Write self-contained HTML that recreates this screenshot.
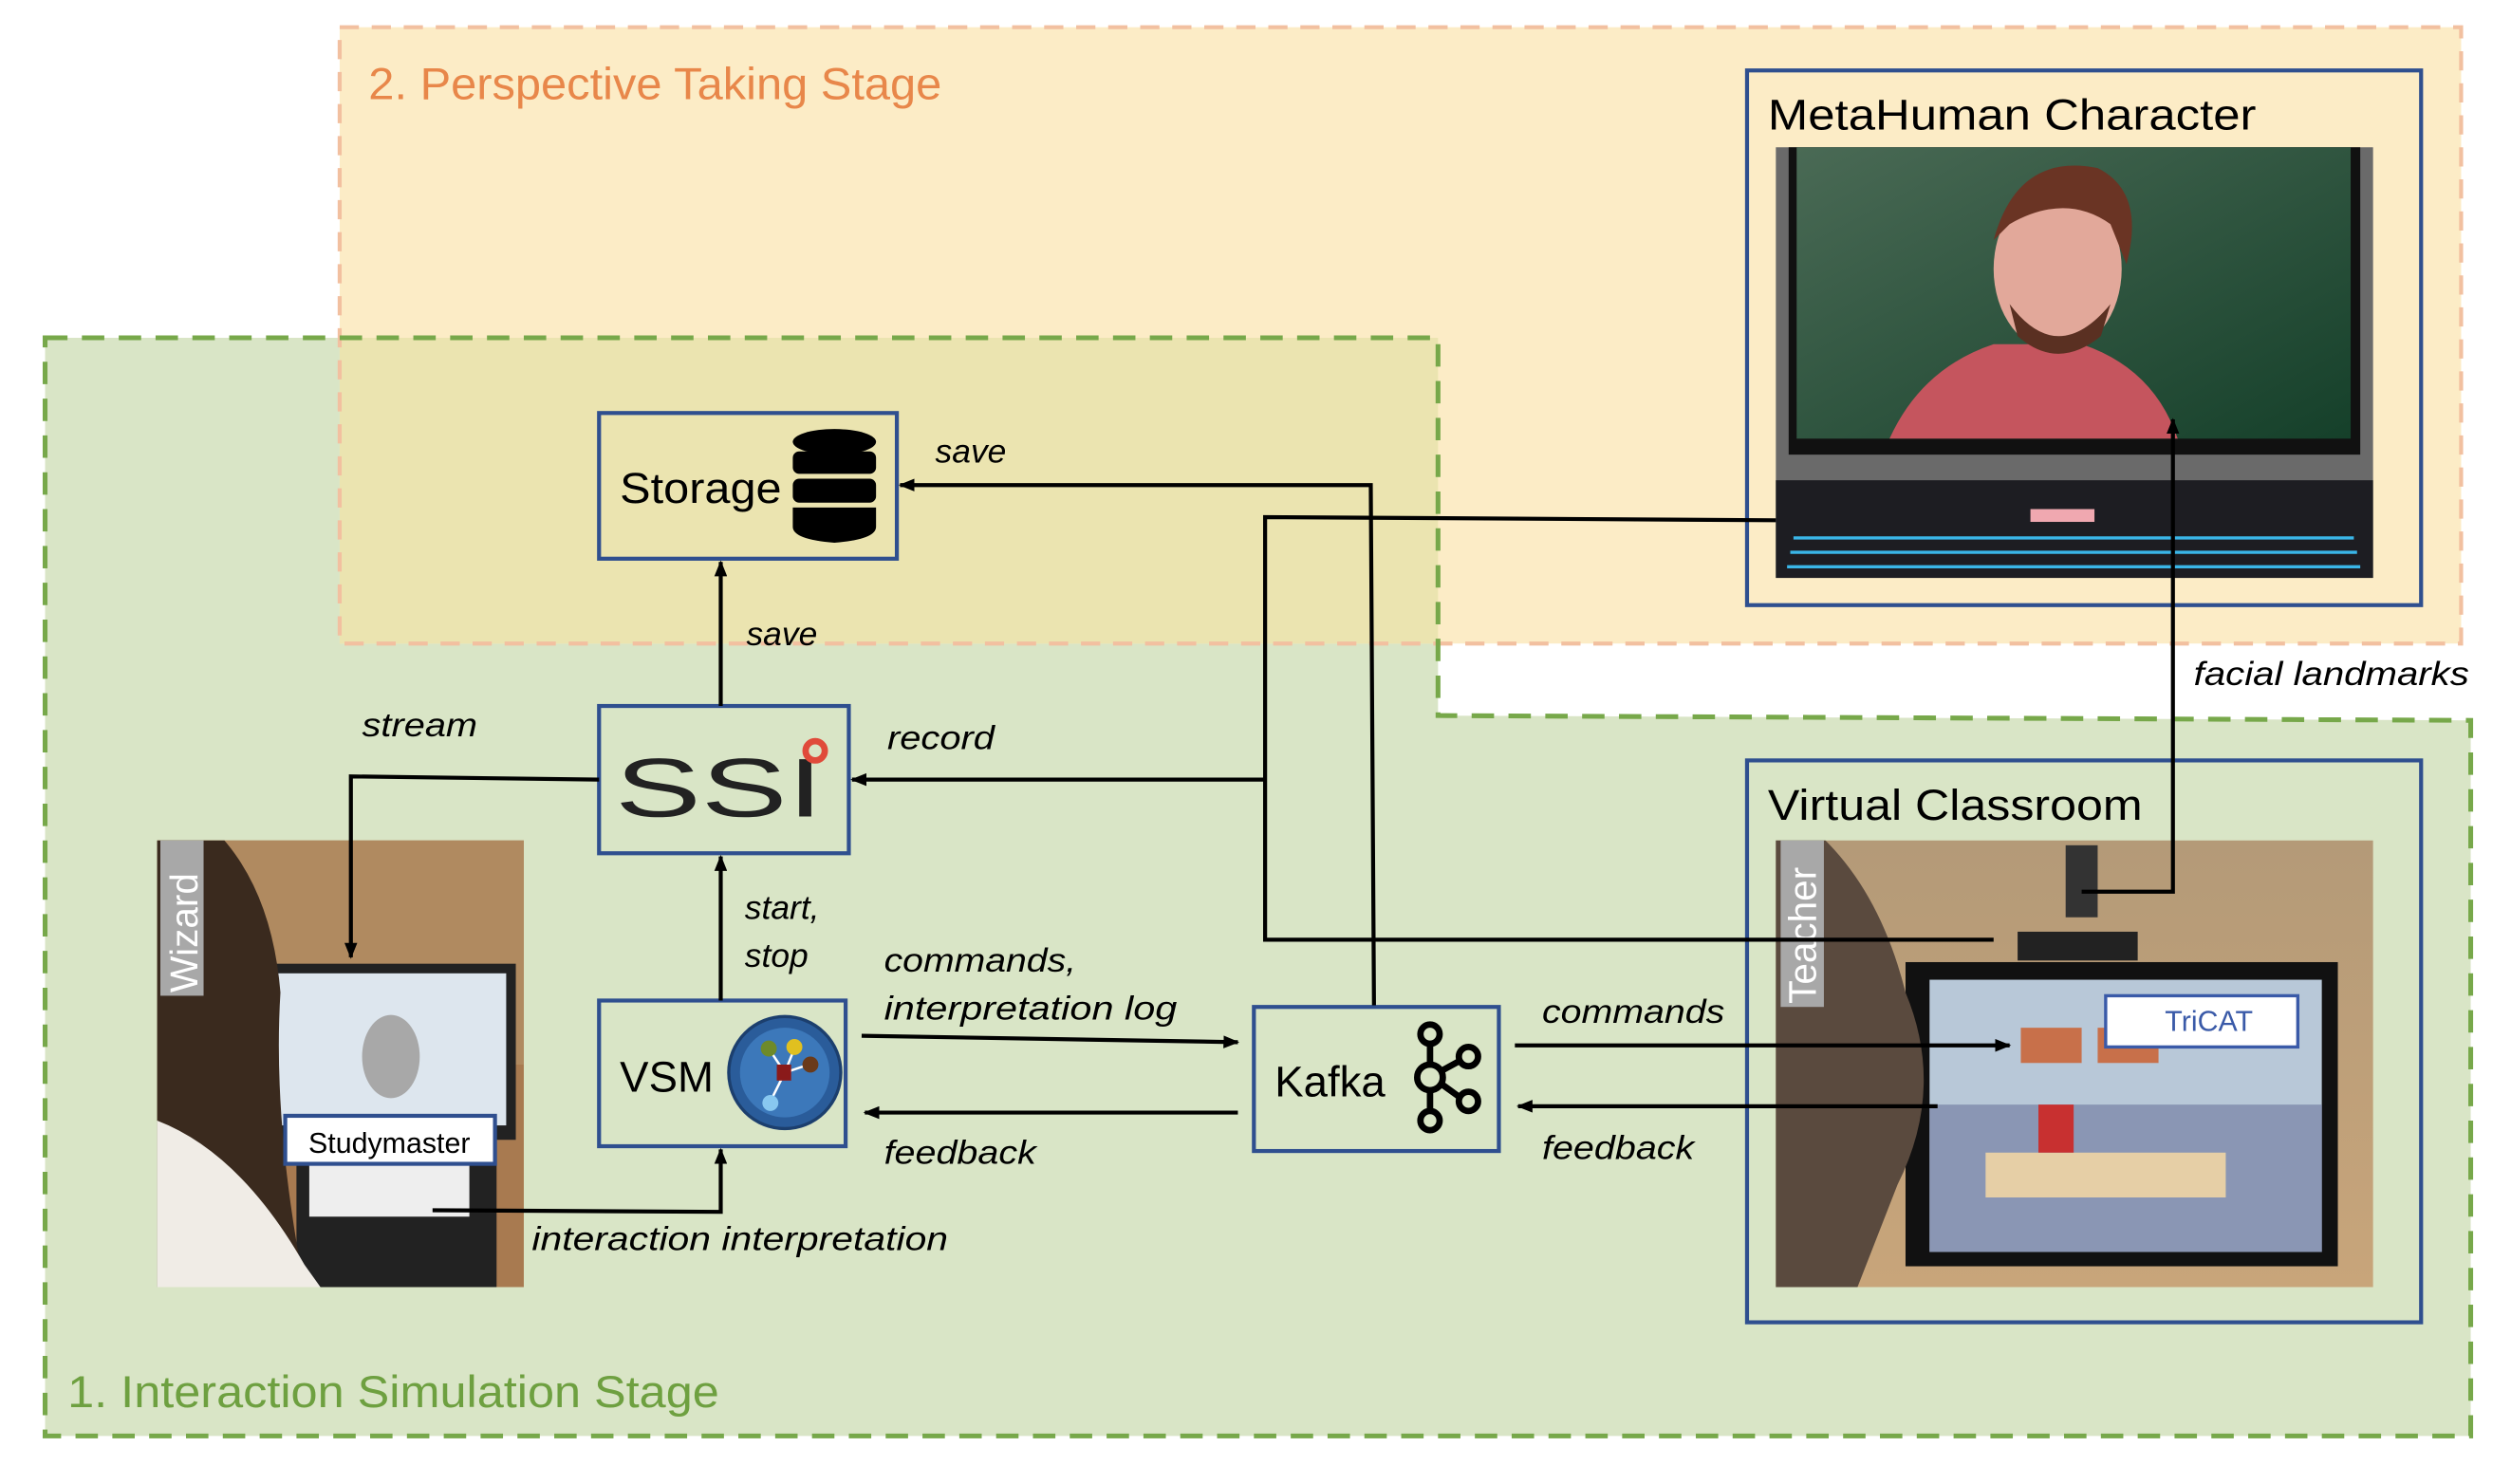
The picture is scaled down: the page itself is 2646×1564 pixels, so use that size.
<!DOCTYPE html>
<html><head><meta charset="utf-8"><style>
html,body{margin:0;padding:0;background:#fff;}
svg{display:block;}
text{font-family:"Liberation Sans","DejaVu Sans",sans-serif;}
.lab{font-style:italic;font-size:21px;fill:#000;}
.ttl{font-size:27px;fill:#000;}
</style></head><body>
<svg width="2646" height="1564" viewBox="0 0 1568 927" xmlns="http://www.w3.org/2000/svg">
<defs>
<marker id="ah" markerWidth="10" markerHeight="8" refX="9" refY="4" orient="auto" markerUnits="userSpaceOnUse">
<path d="M0,0 L10,4 L0,8 z" fill="#000"/></marker>
<linearGradient id="scr" x1="0" y1="0" x2="1" y2="1"><stop offset="0" stop-color="#4a6a55"/><stop offset="1" stop-color="#15402a"/></linearGradient>
<linearGradient id="wall" x1="0" y1="0" x2="0" y2="1"><stop offset="0" stop-color="#b49a78"/><stop offset="1" stop-color="#c8a57a"/></linearGradient>
</defs>
<polygon points="28,211 898,211 898,447 1543,450 1543,897 28,897" fill="#d9e5c6"/>
<rect x="212" y="17" width="1325" height="385" fill="#fcecc6"/>
<rect x="212" y="211" width="686" height="191" fill="#ebe4b0"/>
<rect x="212" y="17" width="1325" height="385" fill="none" stroke="#f2c0a0" stroke-width="2.5" stroke-dasharray="12,8"/>
<polygon points="28,211 898,211 898,447 1543,450 1543,897 28,897" fill="none" stroke="#77a84a" stroke-width="3" stroke-dasharray="14,9"/>
<text x="230" y="62" font-size="28" fill="#e8874a" textLength="358" lengthAdjust="spacingAndGlyphs">2. Perspective Taking Stage</text>
<text x="42" y="879" font-size="28" fill="#6ea040" textLength="407" lengthAdjust="spacingAndGlyphs">1. Interaction Simulation Stage</text>

<rect x="1091" y="44" width="421" height="334" fill="#fcecc6" stroke="#2f4f8f" stroke-width="2.5"/>
<text x="1104" y="81" class="ttl" textLength="305" lengthAdjust="spacingAndGlyphs">MetaHuman Character</text>
<rect x="1109" y="92" width="373" height="269" fill="#6a6a6a"/>
<rect x="1117" y="92" width="357" height="192" fill="#111"/>
<rect x="1122" y="92" width="346" height="182" fill="url(#scr)"/>
<path d="M1180,274 Q1200,230 1245,215 L1300,215 Q1345,230 1360,274 z" fill="#c5555e"/>
<ellipse cx="1285" cy="168" rx="40" ry="52" fill="#e2a89a"/>
<path d="M1245,150 Q1260,95 1310,105 Q1340,120 1328,165 L1318,140 Q1290,120 1255,140 z" fill="#6a3424"/>
<path d="M1255,190 Q1285,230 1318,190 L1312,210 Q1285,232 1260,210 z" fill="#5a3022"/>
<rect x="1109" y="300" width="373" height="61" fill="#1d1d22"/>
<g stroke="#3ab6e8" stroke-width="2">
<line x1="1120" y1="336" x2="1470" y2="336"/><line x1="1118" y1="345" x2="1472" y2="345"/><line x1="1116" y1="354" x2="1474" y2="354"/></g>
<rect x="1268" y="318" width="40" height="8" fill="#f0a8b0"/>

<rect x="1091" y="475" width="421" height="351" fill="#d9e5c6" stroke="#2f4f8f" stroke-width="2.5"/>
<text x="1104" y="512" class="ttl" textLength="234" lengthAdjust="spacingAndGlyphs">Virtual Classroom</text>
<rect x="1109" y="525" width="373" height="279" fill="url(#wall)"/>
<rect x="1290" y="528" width="20" height="45" fill="#333"/>
<rect x="1260" y="582" width="75" height="18" fill="#222"/>
<rect x="1190" y="601" width="270" height="190" fill="#111"/>
<rect x="1205" y="612" width="245" height="170" fill="#b8c8d8"/>
<rect x="1205" y="690" width="245" height="92" fill="#8a96b4"/>
<rect x="1262" y="642" width="38" height="22" fill="#c8704a"/>
<rect x="1310" y="642" width="38" height="22" fill="#c8704a"/>
<rect x="1240" y="720" width="150" height="28" fill="#e6cfa6"/>
<rect x="1273" y="690" width="22" height="30" fill="#c83030"/>
<rect x="1315" y="622" width="120" height="32" fill="#fff" stroke="#3a5aa8" stroke-width="2"/>
<text x="1352" y="644" font-size="18" fill="#3a5aa8">TriCAT</text>
<path d="M1109,525 L1140,525 Q1175,560 1190,620 Q1215,680 1185,740 L1160,804 L1109,804 z" fill="#5a4a3e"/>
<rect x="1112" y="525" width="27" height="104" fill="#a8a8a8"/>
<text transform="translate(1134,627) rotate(-90)" font-size="24" fill="#fff">Teacher</text>

<rect x="98" y="525" width="229" height="279" fill="#a87a50"/>
<rect x="98" y="525" width="229" height="140" fill="#b08a60"/>
<rect x="150" y="602" width="172" height="110" fill="#222"/>
<rect x="156" y="608" width="160" height="95" fill="#dde6ee"/>
<ellipse cx="244" cy="660" rx="18" ry="26" fill="#a8a8a8"/>
<rect x="185" y="720" width="125" height="84" fill="#222"/>
<rect x="193" y="725" width="100" height="35" fill="#eee"/>
<path d="M98,525 L140,525 Q170,560 175,620 Q170,700 190,804 L98,804 z" fill="#3a2a1e"/>
<path d="M98,700 Q150,720 190,790 L200,804 L98,804 z" fill="#f0ece6"/>
<rect x="100" y="525" width="27" height="97" fill="#a8a8a8"/>
<text transform="translate(123,620) rotate(-90)" font-size="24" fill="#fff">Wizard</text>
<rect x="178" y="697" width="131" height="30" fill="#fff" stroke="#2f4f8f" stroke-width="2.5"/>
<text x="243" y="720" font-size="18" text-anchor="middle">Studymaster</text>

<rect x="374" y="258" width="186" height="91" fill="none" stroke="#2f4f8f" stroke-width="2.5"/>
<text x="387" y="314" class="ttl" textLength="101" lengthAdjust="spacingAndGlyphs">Storage</text>
<g fill="#000">
<ellipse cx="521" cy="276" rx="26" ry="8"/>
<rect x="495" y="282" width="52" height="14" rx="4"/>
<rect x="495" y="299" width="52" height="15" rx="4"/>
<path d="M495,317 h52 v12 q0,8 -26,10 q-26,-2 -26,-10 z"/>
</g>
<rect x="374" y="441" width="156" height="92" fill="none" stroke="#2f4f8f" stroke-width="2.5"/>
<text x="384" y="510" font-size="52" fill="#222" textLength="130" lengthAdjust="spacingAndGlyphs">SSI</text>
<circle cx="509" cy="469" r="6" fill="none" stroke="#e04a3a" stroke-width="4"/>
<rect x="374" y="625" width="154" height="91" fill="none" stroke="#2f4f8f" stroke-width="2.5"/>
<text x="387" y="682" class="ttl">VSM</text>
<circle cx="490" cy="670" r="35" fill="#2a5c9a" stroke="#1c3f6e" stroke-width="2"/>
<circle cx="490" cy="670" r="28" fill="#3c78ba"/>
<g stroke="#fff" stroke-width="1.5"><line x1="490" y1="670" x2="480" y2="655"/><line x1="490" y1="670" x2="505" y2="665"/><line x1="490" y1="670" x2="481" y2="688"/><line x1="490" y1="670" x2="496" y2="655"/></g>
<circle cx="480" cy="655" r="5" fill="#6e8a2a"/><circle cx="496" cy="654" r="5" fill="#e0c020"/>
<circle cx="506" cy="665" r="5" fill="#6a3a1a"/><circle cx="481" cy="689" r="5" fill="#88c8f0"/>
<rect x="485" y="665" width="9" height="10" fill="#8a1a1a"/>
<rect x="783" y="629" width="153" height="90" fill="none" stroke="#2f4f8f" stroke-width="2.5"/>
<text x="796" y="685" class="ttl">Kafka</text>
<g fill="none" stroke="#000" stroke-width="4">
<circle cx="893" cy="646" r="6"/><circle cx="893" cy="673" r="8"/><circle cx="893" cy="700" r="6"/>
<circle cx="917" cy="660" r="6"/><circle cx="917" cy="688" r="6"/>
<line x1="893" y1="652" x2="893" y2="665"/><line x1="893" y1="681" x2="893" y2="694"/>
<line x1="900" y1="669" x2="911" y2="663"/><line x1="900" y1="677" x2="911" y2="685"/></g>

<g fill="none" stroke="#000" stroke-width="2.5">
<polyline points="858,628 856,303 562,303" marker-end="url(#ah)"/>
<polyline points="1109,325 790,323 790,587 1245,587"/>
<polyline points="790,487 532,487" marker-end="url(#ah)"/>
<polyline points="374,487 219,485 219,598" marker-end="url(#ah)"/>
<polyline points="450,441 450,351" marker-end="url(#ah)"/>
<polyline points="450,625 450,535" marker-end="url(#ah)"/>
<polyline points="538,647 773,651" marker-end="url(#ah)"/>
<polyline points="773,695 540,695" marker-end="url(#ah)"/>
<polyline points="946,653 1255,653" marker-end="url(#ah)"/>
<polyline points="1210,691 948,691" marker-end="url(#ah)"/>
<polyline points="270,756 450,757 450,718" marker-end="url(#ah)"/>
<polyline points="1300,557 1357,557 1357,262" marker-end="url(#ah)"/>
</g>

<text x="584" y="289" class="lab">save</text>
<text x="466" y="403" class="lab">save</text>
<text x="226" y="460" class="lab" textLength="72" lengthAdjust="spacingAndGlyphs">stream</text>
<text x="554" y="468" class="lab" textLength="67" lengthAdjust="spacingAndGlyphs">record</text>
<text x="465" y="574" class="lab">start,</text>
<text x="465" y="604" class="lab">stop</text>
<text x="552" y="607" class="lab" textLength="120" lengthAdjust="spacingAndGlyphs">commands,</text>
<text x="552" y="637" class="lab" textLength="183" lengthAdjust="spacingAndGlyphs">interpretation log</text>
<text x="552" y="727" class="lab" textLength="95" lengthAdjust="spacingAndGlyphs">feedback</text>
<text x="963" y="639" class="lab" textLength="114" lengthAdjust="spacingAndGlyphs">commands</text>
<text x="963" y="724" class="lab" textLength="95" lengthAdjust="spacingAndGlyphs">feedback</text>
<text x="332" y="781" class="lab" textLength="260" lengthAdjust="spacingAndGlyphs">interaction interpretation</text>
<text x="1370" y="428" class="lab" textLength="172" lengthAdjust="spacingAndGlyphs">facial landmarks</text>
</svg>
</body></html>
